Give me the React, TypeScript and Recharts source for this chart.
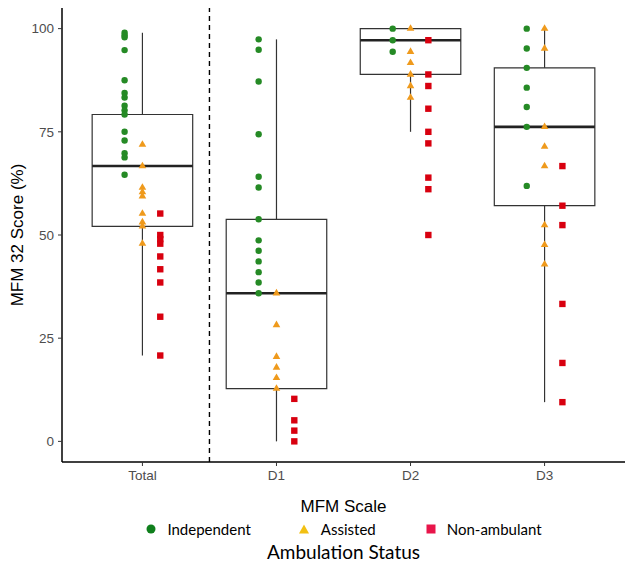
import React from 'react';
import { ComposedChart, XAxis, YAxis, Scatter, ReferenceArea, ReferenceLine, Label } from 'recharts';

const categories = ['Total', 'D1', 'D2', 'D3'];
const yTicks = [0, 25, 50, 75, 100];

const independentTotal = [99.0, 98.4, 97.9, 94.8, 87.5, 84.4, 83.3, 81.3, 80.2, 79.2, 75.0, 72.9, 69.8, 68.8, 64.6];
const assistedTotal = [71.9, 66.7, 61.5, 60.4, 59.4, 55.2, 53.1, 52.1, 47.9];
const nonAmbulantTotal = [55.2, 50.0, 49.0, 47.9, 44.8, 41.7, 38.5, 30.2, 20.8];

const independentD1 = [97.4, 94.9, 87.2, 74.4, 64.1, 61.5, 53.8, 48.7, 46.2, 43.6, 41.0, 38.5, 35.9];
const assistedD1 = [35.9, 28.2, 20.5, 17.9, 15.4, 12.8];
const nonAmbulantD1 = [10.3, 5.1, 2.6, 0];

const independentD2 = [100, 97.2, 94.4];
const assistedD2 = [100, 94.4, 91.7, 88.9, 86.1, 83.3];
const nonAmbulantD2 = [97.2, 88.9, 86.1, 80.6, 75.0, 72.2, 63.9, 61.1, 50.0];

const independentD3 = [100, 95.2, 90.5, 85.7, 81.0, 76.2, 61.9];
const assistedD3 = [100, 95.2, 76.2, 71.4, 66.7, 52.4, 47.6, 42.9];
const nonAmbulantD3 = [66.7, 57.1, 52.4, 33.3, 19.0, 9.5];

const boxQ1 = [52.1, 12.8, 88.9, 57.1];
const boxMedian = [66.7, 35.9, 97.2, 76.2];
const boxQ3 = [79.2, 53.8, 100, 90.5];
const whiskerLow = [20.8, 0, 75.0, 9.5];
const whiskerHigh = [99.0, 97.4, 100, 100];

const GREEN = '#258A25';
const ORANGE = '#EF9A1C';
const RED = '#D8000F';
const LEG_GREEN = '#0F7F1C';
const LEG_YELLOW = '#F2C012';
const LEG_RED = '#E8154A';

const AXIS_FONT = '"Liberation Sans", Arial, sans-serif';

const DODGE = 0.133;
const HALF = 0.375;

const groups = [
  { name: 'Independent', values: [independentTotal, independentD1, independentD2, independentD3], shift: -DODGE },
  { name: 'Assisted', values: [assistedTotal, assistedD1, assistedD2, assistedD3], shift: 0 },
  { name: 'Non-ambulant', values: [nonAmbulantTotal, nonAmbulantD1, nonAmbulantD2, nonAmbulantD3], shift: DODGE },
];

const toPoints = (vals: number[][], shift: number) =>
  vals.flatMap((arr, i) => arr.map((v) => ({ x: i + 1 + shift, y: v })));

const CircleShape = (p: any) => <circle cx={p.cx} cy={p.cy} r={3.2} fill={GREEN} />;
const TriShape = (p: any) => {
  const s = 7.6;
  const h = s * 0.866;
  const pts = `${p.cx},${p.cy - (2 * h) / 3} ${p.cx - s / 2},${p.cy + h / 3} ${p.cx + s / 2},${p.cy + h / 3}`;
  return <polygon points={pts} fill={ORANGE} />;
};
const SqShape = (p: any) => <rect x={p.cx - 3.2} y={p.cy - 3.2} width={6.4} height={6.4} fill={RED} />;

const shapes = [CircleShape, TriShape, SqShape];

export default function App() {
  return (
    <div style={{ position: 'absolute', left: 0, top: 0, width: 633, height: 562, background: '#fff' }}>
      <ComposedChart
        width={633}
        height={562}
        margin={{ top: 8, right: 8, bottom: 46, left: 0 }}
        style={{ fontFamily: AXIS_FONT }}
      >
        <XAxis
          type="number"
          dataKey="x"
          domain={[0.4, 4.6]}
          ticks={[1, 2, 3, 4]}
          tickFormatter={(v: number) => categories[v - 1]}
          allowDataOverflow
          height={54}
          tickSize={4}
          tickMargin={4}
          axisLine={{ stroke: '#000', strokeWidth: 1.5 }}
          tickLine={{ stroke: '#333', strokeWidth: 1 }}
          tick={{ fill: '#4D4D4D', fontSize: 13.5, fontFamily: AXIS_FONT }}
        >
          <Label
            value="MFM Scale"
            position="insideBottom"
            offset={4}
            style={{ fontSize: 17, fill: '#000', fontFamily: AXIS_FONT }}
          />
        </XAxis>
        <YAxis
          type="number"
          dataKey="y"
          domain={[-5, 105]}
          ticks={yTicks}
          allowDataOverflow
          width={62}
          tickSize={4}
          tickMargin={4}
          axisLine={{ stroke: '#000', strokeWidth: 1.5 }}
          tickLine={{ stroke: '#333', strokeWidth: 1 }}
          tick={{ fill: '#4D4D4D', fontSize: 13.5, fontFamily: AXIS_FONT }}
        >
          <Label
            value="MFM 32 Score (%)"
            angle={-90}
            position="insideLeft"
            offset={17}
            style={{ fontSize: 17, fill: '#000', textAnchor: 'middle', fontFamily: AXIS_FONT }}
          />
        </YAxis>
        <ReferenceLine x={1.5} stroke="#000" strokeWidth={1.4} strokeDasharray="5 4" />
        {categories.map((c, i) => (
          <ReferenceLine
            key={'wh' + c}
            segment={[{ x: i + 1, y: boxQ3[i] }, { x: i + 1, y: whiskerHigh[i] }]}
            stroke="#333"
            strokeWidth={1.2}
          />
        ))}
        {categories.map((c, i) => (
          <ReferenceLine
            key={'wl' + c}
            segment={[{ x: i + 1, y: whiskerLow[i] }, { x: i + 1, y: boxQ1[i] }]}
            stroke="#333"
            strokeWidth={1.2}
          />
        ))}
        {categories.map((c, i) => (
          <ReferenceArea
            key={'box' + c}
            x1={i + 1 - HALF}
            x2={i + 1 + HALF}
            y1={boxQ1[i]}
            y2={boxQ3[i]}
            fill="#fff"
            fillOpacity={1}
            stroke="#333"
            strokeWidth={1.2}
          />
        ))}
        {categories.map((c, i) => (
          <ReferenceLine
            key={'med' + c}
            segment={[{ x: i + 1 - HALF, y: boxMedian[i] }, { x: i + 1 + HALF, y: boxMedian[i] }]}
            stroke="#222"
            strokeWidth={2.6}
          />
        ))}
        {groups.map((g, gi) => (
          <Scatter
            key={g.name}
            name={g.name}
            data={toPoints(g.values, g.shift)}
            shape={shapes[gi]}
            isAnimationActive={false}
          />
        ))}
      </ComposedChart>
      <div
        style={{
          position: 'absolute',
          left: 62,
          width: 563,
          top: 519,
          height: 20,
          display: 'flex',
          justifyContent: 'center',
          alignItems: 'center',
          fontFamily: 'Lato, "Open Sans", sans-serif',
          fontSize: 15,
          color: '#000',
        }}
      >
        <svg width={12} height={12} style={{ marginRight: 10 }}>
          <circle cx={6} cy={6} r={4.5} fill={LEG_GREEN} />
        </svg>
        <span style={{ marginRight: 47 }}>Independent</span>
        <svg width={12} height={12} style={{ marginRight: 11 }}>
          <polygon points="6,1.5 1,10.5 11,10.5" fill={LEG_YELLOW} />
        </svg>
        <span style={{ marginRight: 49 }}>Assisted</span>
        <svg width={12} height={12} style={{ marginRight: 10 }}>
          <rect x={1.5} y={1.5} width={9} height={9} fill={LEG_RED} />
        </svg>
        <span>Non-ambulant</span>
      </div>
      <div
        style={{
          position: 'absolute',
          left: 62,
          width: 563,
          top: 540,
          textAlign: 'center',
          fontFamily: 'Lato, "Open Sans", sans-serif',
          fontSize: 19,
          lineHeight: '24px',
          color: '#000',
        }}
      >
        Ambulation Status
      </div>
    </div>
  );
}
